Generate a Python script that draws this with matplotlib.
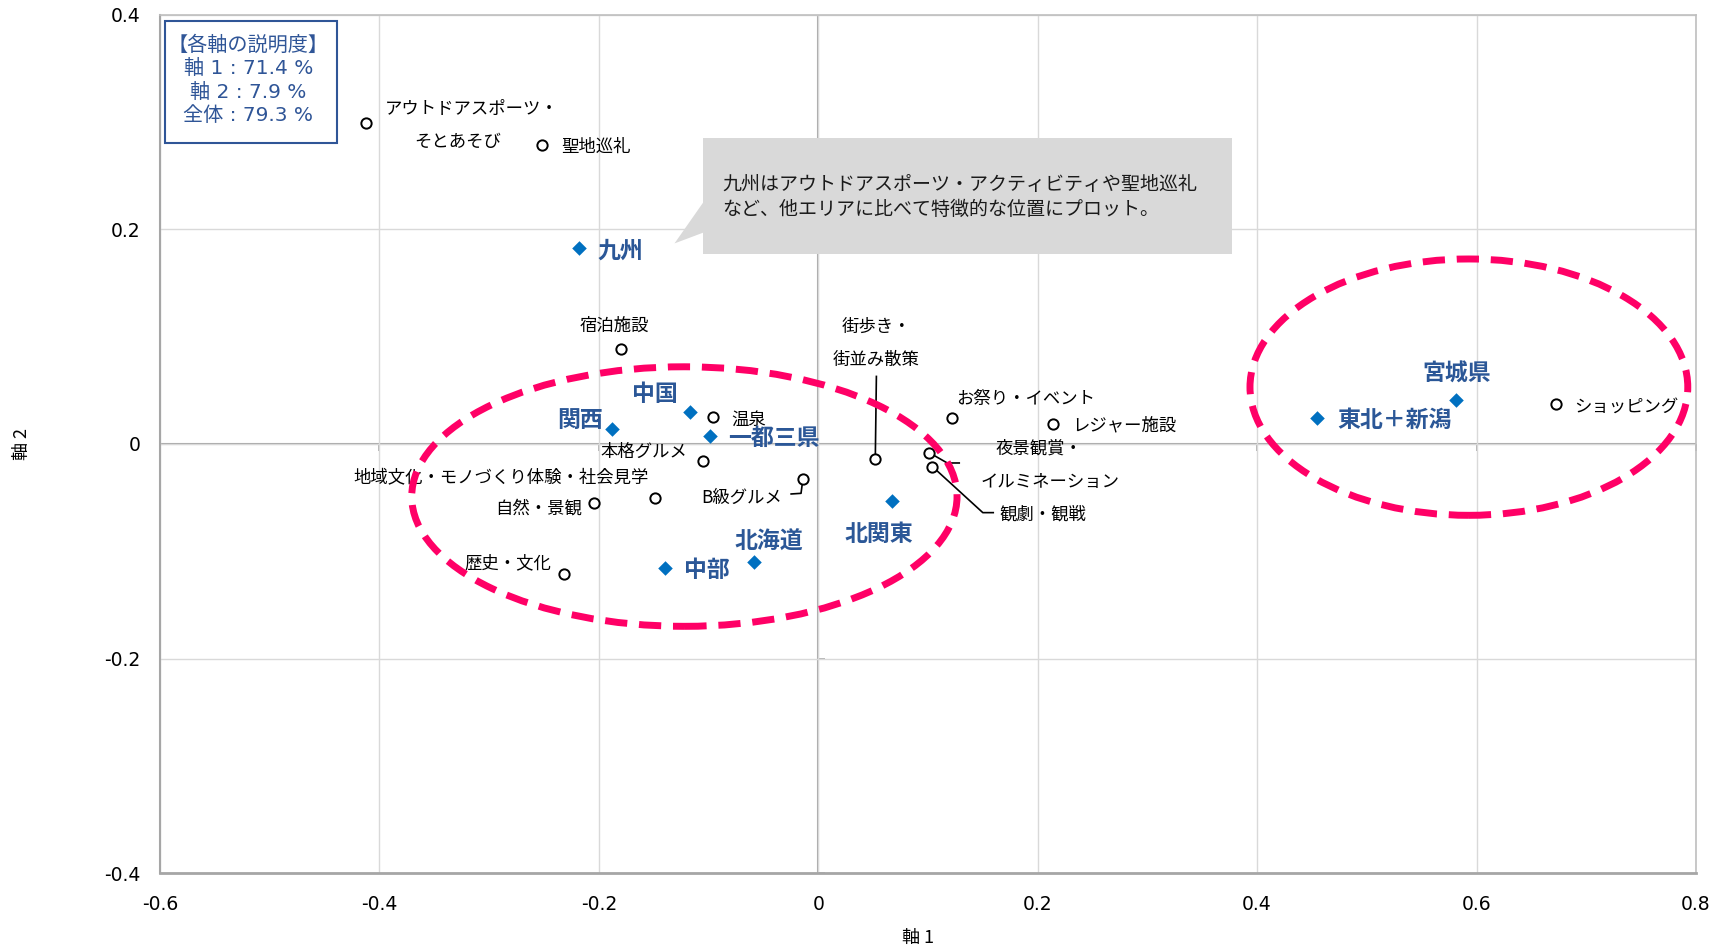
import matplotlib
matplotlib.use('Agg')
import matplotlib.pyplot as plt
from matplotlib.patches import Ellipse, Rectangle, Polygon

plt.rcParams['font.family'] = ['Noto Sans CJK JP', 'DejaVu Sans']

# 項目 (open circles)
items = ['アウトドアスポーツ・そとあそび', '聖地巡礼', '宿泊施設', '温泉', '本格グルメ', 'B級グルメ',
         '地域文化・モノづくり体験・社会見学', '自然・景観', '歴史・文化', '街歩き・街並み散策',
         'お祭り・イベント', 'レジャー施設', '夜景観賞・イルミネーション', '観劇・観戦', 'ショッピング']
item_x = [-0.412, -0.252, -0.180, -0.096, -0.105, -0.014, -0.149, -0.204, -0.232, 0.052,
          0.122, 0.214, 0.101, 0.104, 0.672]
item_y = [0.299, 0.279, 0.089, 0.025, -0.016, -0.033, -0.050, -0.055, -0.121, -0.014,
          0.024, 0.019, -0.008, -0.021, 0.037]

# エリア (blue diamonds)
areas = ['九州', '中国', '関西', '一都三県', '中部', '北海道', '北関東', '東北＋新潟', '宮城県']
area_x = [-0.218, -0.117, -0.188, -0.099, -0.140, -0.059, 0.067, 0.455, 0.581]
area_y = [0.183, 0.030, 0.014, 0.007, -0.116, -0.110, -0.053, 0.024, 0.041]

# label placement (text, x, y, ha)
item_labels = [
    ('アウトドアスポーツ・', -0.395, 0.312, 'left'),
    ('そとあそび', -0.329, 0.282, 'center'),
    ('聖地巡礼', -0.234, 0.277, 'left'),
    ('宿泊施設', -0.186, 0.110, 'center'),
    ('温泉', -0.079, 0.023, 'left'),
    ('本格グルメ', -0.119, -0.007, 'right'),
    ('地域文化・モノづくり体験・社会見学', -0.289, -0.031, 'center'),
    ('自然・景観', -0.215, -0.060, 'right'),
    ('B級グルメ', -0.033, -0.050, 'right'),
    ('歴史・文化', -0.243, -0.111, 'right'),
    ('街歩き・', 0.053, 0.109, 'center'),
    ('街並み散策', 0.053, 0.078, 'center'),
    ('お祭り・イベント', 0.126, 0.042, 'left'),
    ('レジャー施設', 0.231, 0.017, 'left'),
    ('夜景観賞・', 0.162, -0.004, 'left'),
    ('イルミネーション', 0.148, -0.035, 'left'),
    ('観劇・観戦', 0.165, -0.066, 'left'),
    ('ショッピング', 0.689, 0.035, 'left'),
]
area_labels = [
    ('九州', -0.201, 0.180, 'left'),
    ('中国', -0.149, 0.046, 'center'),
    ('関西', -0.196, 0.022, 'right'),
    ('一都三県', -0.082, 0.005, 'left'),
    ('北海道', -0.045, -0.092, 'center'),
    ('中部', -0.122, -0.118, 'left'),
    ('北関東', 0.055, -0.084, 'center'),
    ('宮城県', 0.582, 0.065, 'center'),
    ('東北＋新潟', 0.473, 0.022, 'left'),
]

# leader lines (elbow points)
leaders = [
    ([0.052, 0.053], [-0.014, 0.063]),
    ([-0.014, -0.0157, -0.0247], [-0.033, -0.046, -0.0466]),
    ([0.101, 0.1176, 0.1285], [-0.008, -0.0177, -0.0177]),
    ([0.104, 0.150, 0.1595], [-0.021, -0.064, -0.064]),
]

# ellipses: center, width, height
groups = [((-0.122, -0.049), 0.497, 0.242), ((0.593, 0.053), 0.399, 0.239)]

fig = plt.figure(figsize=(17.14, 9.48), dpi=100)
ax = fig.add_axes([0.0933, 0.0791, 0.8962, 0.9051])
ax.set_xlim(-0.6, 0.8)
ax.set_ylim(-0.4, 0.4)
xt = [-0.6, -0.4, -0.2, 0, 0.2, 0.4, 0.6, 0.8]
yt = [-0.4, -0.2, 0, 0.2, 0.4]
ax.set_xticks(xt)
ax.set_yticks(yt)
ax.set_xticklabels(['-0.6', '-0.4', '-0.2', '0', '0.2', '0.4', '0.6', '0.8'], family='DejaVu Sans')
ax.set_yticklabels(['-0.4', '-0.2', '0', '0.2', '0.4'], family='DejaVu Sans')
ax.tick_params(length=0, labelsize=13.5)
ax.tick_params(axis='x', pad=16)
ax.tick_params(axis='y', pad=14)
ax.grid(True, color='#D9D9D9', lw=1, zorder=0)
ax.axhline(0, color='#A6A6A6', lw=1.5, zorder=1)
ax.axvline(0, color='#A6A6A6', lw=1.5, zorder=1)
# small cross ticks on the zero lines
ax.plot(xt, [0] * len(xt), ls='none', marker=3, ms=5, color='#A6A6A6', mew=1.2, zorder=1)
ax.plot([0] * len(yt), yt, ls='none', marker=1, ms=5, color='#A6A6A6', mew=1.2, zorder=1)
for s in ax.spines.values():
    s.set_color('#BFBFBF')
    s.set_linewidth(1.2)
ax.spines['bottom'].set_color('#A6A6A6')
ax.spines['bottom'].set_linewidth(2)
ax.spines['left'].set_color('#A6A6A6')
ax.spines['left'].set_linewidth(1.5)

ax.set_xlabel('軸 1', fontsize=13, va='center', ha='center')
ax.set_ylabel('軸 2', fontsize=13, va='center', ha='center')
ax.xaxis.set_label_coords(0.4935, -0.0758)
ax.yaxis.set_label_coords(-0.0898, 0.5)

for lx, ly in leaders:
    ax.plot(lx, ly, color='black', lw=1.2, zorder=3)

ax.scatter(item_x, item_y, s=55, facecolor='white', edgecolor='black', linewidth=1.4, zorder=4)
ax.scatter(area_x, area_y, s=55, marker='D', color='#0070C0', linewidth=0, zorder=4)

for t, x, y, ha in item_labels:
    ax.text(x, y, t, ha=ha, va='center', fontsize=12.5, color='black', zorder=5)
for t, x, y, ha in area_labels:
    ax.text(x, y, t, ha=ha, va='center', fontsize=16.5, fontweight='bold', color='#2B5797', zorder=5)

for (cx, cy), w, h in groups:
    ax.add_patch(Ellipse((cx, cy), w, h, fill=False, edgecolor='#FF0066', lw=5,
                         ls=(0, (3.2, 1.7)), zorder=6))

# explanation box
ax.text(0.0575, 0.924, '【各軸の説明度】\n軸 1 : 71.4 %\n軸 2 : 7.9 %\n全体 : 79.3 %',
        transform=ax.transAxes, ha='center', va='center', fontsize=14.5, color='#2F5597',
        linespacing=1.3, family=['DejaVu Sans', 'Noto Sans CJK JP'], zorder=7)
ax.add_patch(Rectangle((0.0033, 0.851), 0.112, 0.142, transform=ax.transAxes,
                       fill=False, edgecolor='#2F5597', lw=1.5, zorder=7))

# callout
ax.add_patch(Rectangle((-0.105, 0.177), 0.482, 0.108, facecolor='#D9D9D9', edgecolor='none', zorder=7))
ax.add_patch(Polygon([(-0.105, 0.225), (-0.131, 0.187), (-0.105, 0.197)], closed=True,
                     facecolor='#D9D9D9', edgecolor='none', zorder=7))
ax.text(-0.0875, 0.230, '九州はアウトドアスポーツ・アクティビティや聖地巡礼\nなど、他エリアに比べて特徴的な位置にプロット。',
        ha='left', va='center', fontsize=13.7, color='#1A1A1A', linespacing=1.25, zorder=8)

fig.savefig('out.png', dpi=100)
